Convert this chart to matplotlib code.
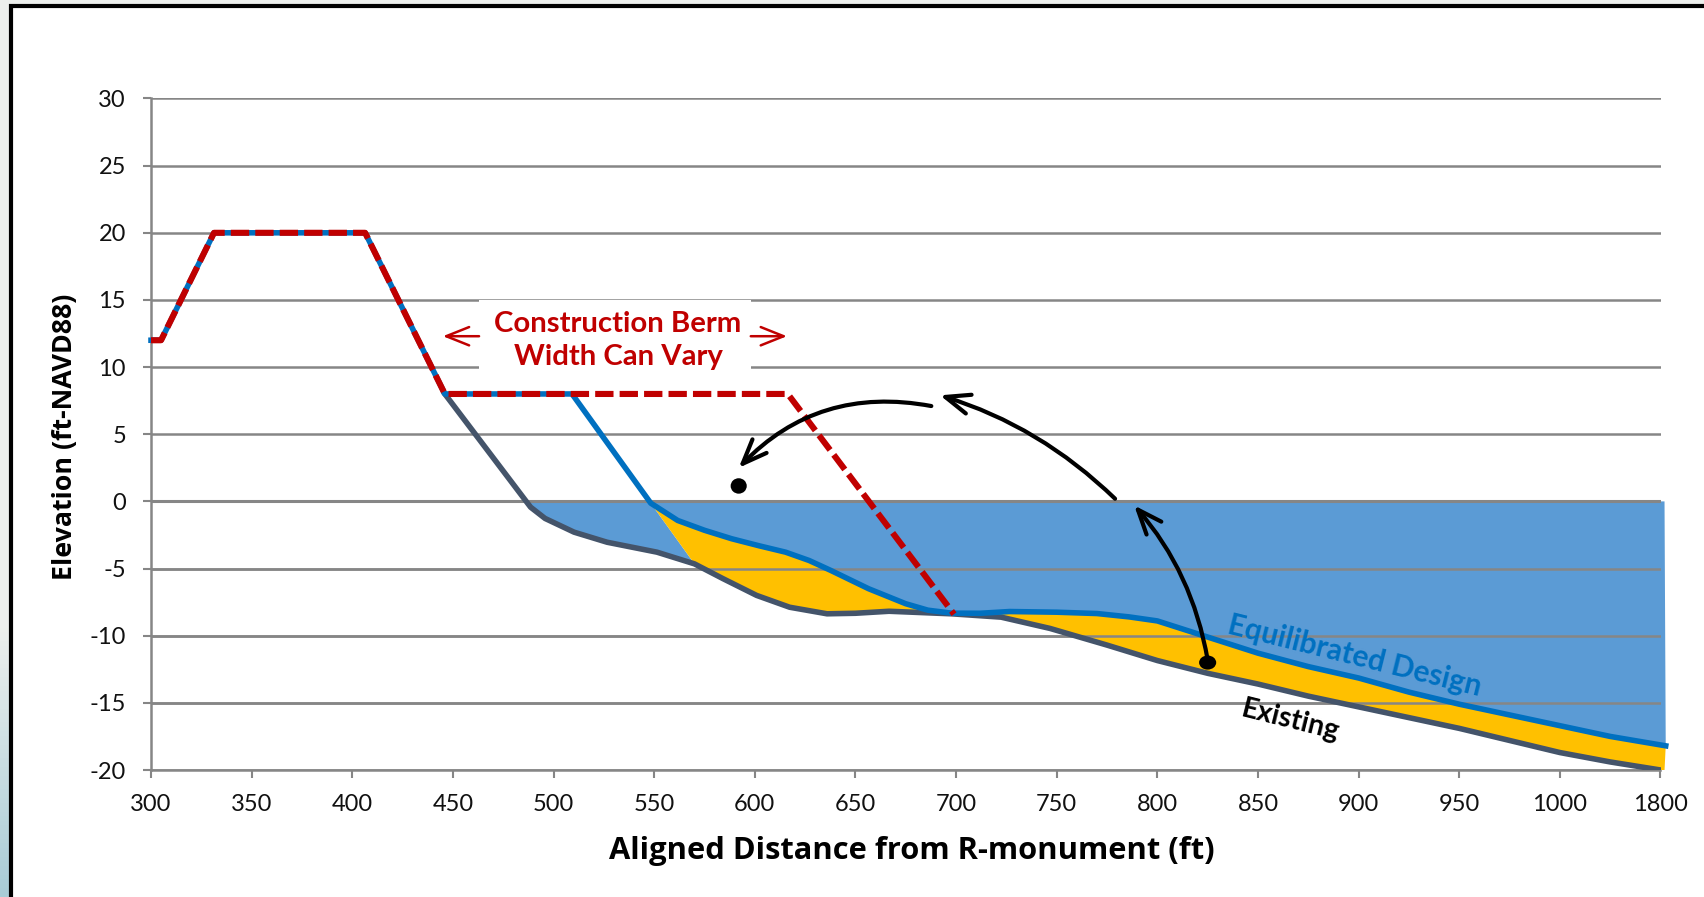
import matplotlib
matplotlib.use("Agg")
import matplotlib.pyplot as plt
import numpy as np
from matplotlib.patches import FancyArrowPatch, Ellipse, Rectangle

plt.rcParams['font.family'] = ['Lato', 'DejaVu Sans']
plt.rcParams['axes.unicode_minus'] = False

W, H = 1704, 897

# x positions are slots on the chart, the last slot (1050) is labelled 1800
x_ticks = [300, 350, 400, 450, 500, 550, 600, 650, 700, 750, 800, 850, 900, 950, 1000, 1050]
x_labels = ['300', '350', '400', '450', '500', '550', '600', '650', '700', '750', '800', '850', '900', '950', '1000', '1800']
y_ticks = [-20, -15, -10, -5, 0, 5, 10, 15, 20, 25, 30]

berm_x = [300, 305, 331.3, 406.4, 446, 616.4, 699]
berm_y = [12, 12, 20, 20, 8, 8, -8.4]

existing_x = [446, 488.6, 495.8, 510.2, 526.6, 551.4, 570, 584.3, 600.9, 617.3, 635.9, 650, 666.7, 697.7,
              722.4, 746.7, 775, 800, 825, 850, 875, 900, 925, 950, 975, 1000, 1025, 1050]
existing_y = [8, -0.43, -1.27, -2.29, -3.04, -3.78, -4.65, -5.76, -7.0, -7.88, -8.37, -8.33, -8.18, -8.37,
              -8.62, -9.46, -10.7, -11.85, -12.8, -13.6, -14.5, -15.3, -16.1, -16.9, -17.8, -18.7, -19.4, -20]

design_x = [300, 305, 331.3, 406.4, 446, 509.2, 548.3, 561.7, 575, 588.5, 602, 615.3, 627, 637.9, 656.5, 675, 686,
            697.7, 712, 726.6, 750, 770, 786, 800, 825, 850, 875, 900, 925, 950, 975, 1000, 1025, 1052.6]
design_y = [12, 12, 20, 20, 8, 8, -0.13, -1.42, -2.15, -2.78, -3.3, -3.78, -4.4, -5.15, -6.5, -7.62, -8.1,
            -8.32, -8.33, -8.2, -8.25, -8.35, -8.6, -8.9, -10.1, -11.3, -12.3, -13.15, -14.2, -15.1, -15.9, -16.7, -17.5, -18.2]

ex = np.array(existing_x)
ey = np.array(existing_y)
dx = np.array(design_x)
dy = np.array(design_y)

fig = plt.figure(figsize=(W / 100, H / 100), dpi=100, facecolor='white')

# slide background behind the frame
bg = fig.add_axes([0, 0, 1, 1], zorder=0)
grad = np.linspace(0, 1, 200)[:, None, None]
top_col = np.array([0.93, 0.94, 0.93])
bot_col = np.array([0.66, 0.80, 0.84])
shade = np.clip((grad - 0.7) / 0.3, 0, 1)
bg.imshow(top_col + (bot_col - top_col) * shade, extent=[0, W, 0, H], aspect='auto')
bg.add_patch(Rectangle((11, -10), W, H + 4, fc='white', ec='black', lw=3))
bg.set_xlim(0, W)
bg.set_ylim(0, H)
bg.axis('off')

ax = fig.add_axes([151 / W, 1 - 770 / H, (1660.5 - 151) / W, (770 - 98.5) / H], zorder=1)
ax.patch.set_alpha(0)
ax.set_xlim(300, 1050)
ax.set_ylim(-20, 30)

ax.set_xticks(x_ticks)
ax.set_xticklabels(x_labels)
ax.set_yticks(y_ticks)
ax.grid(axis='y', color='#868686', lw=1.8, zorder=1)
ax.set_axisbelow(True)
for s in ['top', 'right']:
    ax.spines[s].set_visible(False)
for s in ['left', 'bottom']:
    ax.spines[s].set_color('#868686')
    ax.spines[s].set_linewidth(1.8)
ax.tick_params(axis='both', color='#868686', width=1.5, length=6, labelsize=17, labelcolor='#111111')
ax.tick_params(axis='x', pad=11)
ax.tick_params(axis='y', pad=12)

# blue water area and yellow fill between the profiles
m_e = (ex >= 488) & (ex <= 570)
m_d = dx >= 548
ax.fill(np.r_[488, ex[m_e], dx[m_d], 1052, 488],
        np.r_[0, ey[m_e], dy[m_d], 0, 0], color='#5B9BD5', lw=0, zorder=2, clip_on=False)
m_e2 = ex >= 570
ax.fill(np.r_[dx[m_d], 1052, ex[m_e2][::-1]], np.r_[dy[m_d], -20, ey[m_e2][::-1]], color='#FFC000', lw=0, zorder=3, clip_on=False)

# gridlines stay visible on top of the fill
for yt in [-5, -10, -15]:
    ax.plot([300, 1050], [yt, yt], color='#868686', lw=1.8, zorder=3.5)
ax.plot([300, 1050], [0, 0], color='#868686', lw=2.2, zorder=3.5)

ax.plot(existing_x, existing_y, color='#44546A', lw=4, zorder=4, solid_joinstyle='round')
ax.plot(design_x, design_y, color='#0070C0', lw=4, zorder=5, solid_joinstyle='round', clip_on=False)
ax.plot(berm_x, berm_y, color='#C00000', lw=4.4, dashes=(3.0, 1.0), zorder=6)

# white box behind the berm note
ax.add_patch(Rectangle((463, 8.6), 135, 6.4, fc='white', ec='none', zorder=3))
ax.text(532, 12.0, 'Construction Berm\nWidth Can Vary', color='#C00000', fontsize=21.2, fontweight='bold',
        ha='center', va='center', linespacing=1.33, zorder=7)
ax.annotate('', xy=(445, 12.3), xytext=(463, 12.3), zorder=7,
            arrowprops=dict(arrowstyle='->,head_length=0.75,head_width=0.3', mutation_scale=22, color='#C00000', lw=1.8, shrinkA=0, shrinkB=0))
ax.annotate('', xy=(616, 12.3), xytext=(598, 12.3), zorder=7,
            arrowprops=dict(arrowstyle='->,head_length=0.75,head_width=0.3', mutation_scale=22, color='#C00000', lw=1.8, shrinkA=0, shrinkB=0))

ax.text(898, -11.5, 'Equilibrated Design', color='#0070C0', fontsize=21.5, fontweight='bold',
        rotation=-14, ha='center', va='center', rotation_mode='anchor', zorder=7)
ax.text(866, -16.3, 'Existing', color='black', fontsize=20.5, fontweight='bold',
        rotation=-14, ha='center', va='center', rotation_mode='anchor', zorder=7)

# black curved arrows
for start, end, rad in [((825, -11.8), (788.5, -0.3), 0.14),
                        ((779, 0.2), (692, 7.9), 0.12),
                        ((687.7, 7.1), (592, 2.5), 0.27)]:
    ax.add_patch(FancyArrowPatch(start, end, connectionstyle=f'arc3,rad={rad}', arrowstyle='->,head_length=0.8,head_width=0.32',
                                 color='black', lw=3, mutation_scale=22, shrinkA=0, shrinkB=0, zorder=8))
ax.add_patch(Ellipse((825, -12), 8.5, 1.05, fc='black', ec='none', zorder=8))
ax.add_patch(Ellipse((592, 1.15), 8, 1.15, fc='black', ec='none', zorder=8))

fig.text(609 / W, 1 - 851 / H, 'Aligned Distance from R-monument (ft)', fontsize=22.2, fontweight='bold',
         family=['Open Sans', 'DejaVu Sans'], ha='left', va='center', color='black', zorder=9)
fig.text(65 / W, 1 - 437 / H, 'Elevation (ft-NAVD88)', fontsize=19.3, fontweight='bold',
         family=['Open Sans', 'DejaVu Sans'], rotation=90, ha='center', va='center', color='black', zorder=9)

fig.savefig('out.png', dpi=100, facecolor=fig.get_facecolor())
